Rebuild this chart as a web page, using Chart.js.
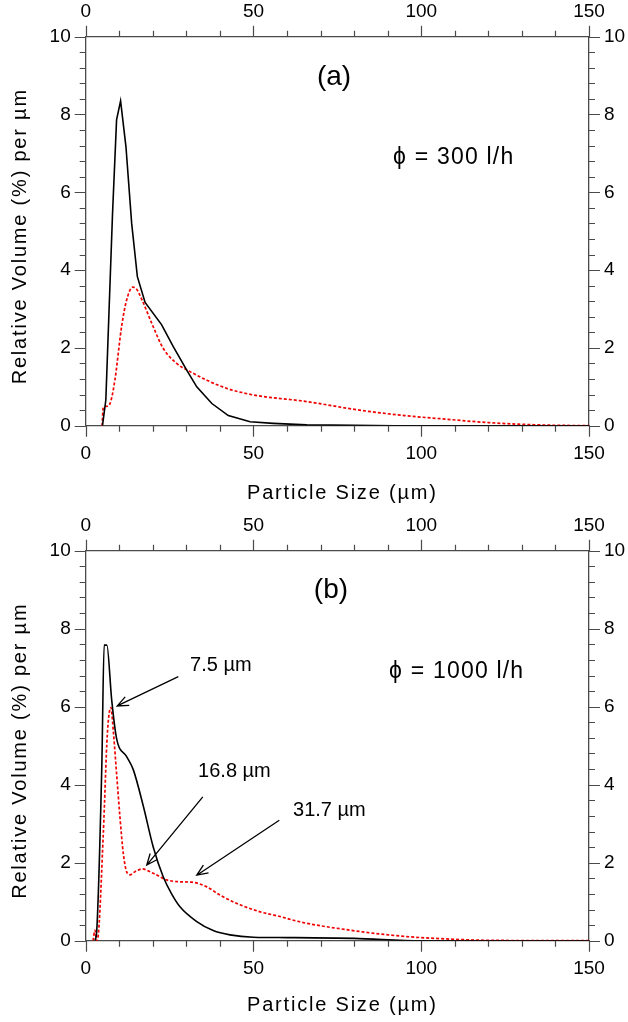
<!DOCTYPE html>
<html>
<head>
<meta charset="utf-8">
<title>Particle size distribution</title>
<script src="https://cdn.jsdelivr.net/npm/chart.js@4.4.0/dist/chart.umd.min.js"></script>
<style>
  html, body { margin: 0; padding: 0; background: #fff; }
  canvas { display: block; }
</style>
</head>
<body>
<canvas id="chartA" width="628" height="514"></canvas>
<canvas id="chartB" width="628" height="508"></canvas>
<script>
// ===== DATA =====

// axis ticks
const sizeTicks = [0, 50, 100, 150];
const volTicks = [0, 2, 4, 6, 8, 10];

// (a) phi = 300 l/h
const aBlackSize = [5.0, 6.0, 8.0, 9.2, 10.4, 12.0, 13.7, 15.4, 17.7, 22.6, 26.1, 30.1, 33.1, 37.6, 42.5, 49.0, 55.9, 65.9, 80, 92, 150];
const aBlackVol  = [0, 0.66, 5.46, 7.86, 8.35, 7.17, 5.2, 3.83, 3.17, 2.6, 2.03, 1.43, 1.0, 0.57, 0.26, 0.10, 0.06, 0.02, 0.01, 0, 0];
const aRedSize = [4.9, 5.2, 6.3, 7.3, 8.7, 10.7, 12.2, 14.0, 15.0, 16.7, 19.7, 23.1, 27.1, 31.1, 36.1, 42.0, 50.0, 65.9, 80.8, 95, 105.6, 120, 135, 150];
const aRedVol  = [0, 0.45, 0.5, 0.58, 1.17, 2.55, 3.23, 3.56, 3.53, 3.25, 2.63, 1.99, 1.60, 1.39, 1.17, 0.96, 0.79, 0.62, 0.41, 0.26, 0.18, 0.08, 0.02, 0];

// (b) phi = 1000 l/h
const bBlackSize = [2.77, 3.3, 4.8, 5.5, 6.3, 7.75, 9.2, 12.2, 14.2, 17.2, 20.1, 23.1, 25.6, 28.1, 33.1, 38.0, 43.0, 50, 60, 80, 100, 150];
const bBlackVol  = [0, 0.27, 4.47, 7.58, 7.58, 6.17, 5.19, 4.72, 4.38, 3.44, 2.41, 1.64, 1.2, 0.87, 0.49, 0.26, 0.15, 0.09, 0.08, 0.06, 0, 0];
const bRedSize = [2.2, 2.77, 3.3, 3.6, 5.25, 6.45, 7.5, 8.3, 9.2, 10.2, 11.2, 12.2, 13.2, 14.7, 16.8, 20.1, 24.1, 28.1, 31.7, 36.1, 40.0, 46, 52, 57.9, 64, 78.8, 93.7, 108.6, 120, 150];
const bRedVol  = [0, 0.27, 0, 0.05, 2.75, 5.3, 5.98, 5.3, 4.29, 3.18, 2.24, 1.77, 1.69, 1.77, 1.84, 1.73, 1.56, 1.51, 1.50, 1.38, 1.17, 0.92, 0.74, 0.62, 0.48, 0.27, 0.12, 0.04, 0.01, 0];

// peak labels in (b)
const bPeakLabels = ['7.5 µm', '16.8 µm', '31.7 µm'];

// ===== STYLE =====
const FONT = "'Liberation Sans', Arial, Helvetica, sans-serif";
const AXIS_COLOR = '#4a4a4a';

function toPoints(xs, ys) {
    return xs.map((x, i) => ({ x: x, y: ys[i] }));
}

// Outward tick marks on all four sides, major + minor
const frameTicks = {
    id: 'frameTicks',
    afterDraw(chart) {
        const { ctx, chartArea: a, scales } = chart;
        ctx.save();
        ctx.strokeStyle = AXIS_COLOR;
        ctx.lineWidth = 1.2;
        ctx.beginPath();
        for (let i = 0; i <= 15; i++) {
            const px = Math.round(scales.x.getPixelForValue(i * 10)) + 0.5;
            const len = i % 5 === 0 ? 11 : 6;
            ctx.moveTo(px, a.bottom); ctx.lineTo(px, a.bottom + len);
            ctx.moveTo(px, a.top); ctx.lineTo(px, a.top - len);
        }
        for (let i = 0; i <= 25; i++) {
            const py = Math.round(scales.y.getPixelForValue(i * 0.4)) + 0.5;
            const len = i % 5 === 0 ? 11 : 6;
            ctx.moveTo(a.left, py); ctx.lineTo(a.left - len, py);
            ctx.moveTo(a.right, py); ctx.lineTo(a.right + len, py);
        }
        ctx.stroke();
        ctx.restore();
    }
};

// Axis titles, text labels and arrows (labels placed in data coordinates)
const notes = {
    id: 'notes',
    afterDraw(chart, args, opts) {
        const { ctx, scales, chartArea: a } = chart;
        const px = v => scales.x.getPixelForValue(v);
        const py = v => scales.y.getPixelForValue(v);
        ctx.save();
        ctx.fillStyle = '#000';
        ctx.textBaseline = 'middle';

        // axis titles
        ctx.font = `20px ${FONT}`;
        ctx.letterSpacing = '1.8px';
        ctx.textAlign = 'center';
        ctx.fillText('Particle Size (µm)', (a.left + a.right) / 2 + 5, opts.titleY);
        ctx.save();
        ctx.translate(20, (a.top + a.bottom) / 2 + 5);
        ctx.rotate(-Math.PI / 2);
        ctx.fillText('Relative Volume (%) per µm', 0, 0);
        ctx.restore();

        (opts.texts || []).forEach(t => {
            ctx.font = `${t.size}px ${FONT}`;
            ctx.letterSpacing = (t.spacing || 0) + 'px';
            ctx.textAlign = t.align || 'left';
            ctx.fillText(t.text, px(t.x), py(t.y));
        });
        ctx.letterSpacing = '0px';

        ctx.strokeStyle = '#000';
        ctx.lineWidth = 1.3;
        (opts.arrows || []).forEach(ar => {
            const x0 = px(ar.from[0]), y0 = py(ar.from[1]);
            const x1 = px(ar.to[0]), y1 = py(ar.to[1]);
            const ang = Math.atan2(y1 - y0, x1 - x0);
            const head = 12, spread = 0.4;
            ctx.beginPath();
            ctx.moveTo(x0, y0); ctx.lineTo(x1, y1);
            ctx.moveTo(x1 - head * Math.cos(ang - spread), y1 - head * Math.sin(ang - spread));
            ctx.lineTo(x1, y1);
            ctx.lineTo(x1 - head * Math.cos(ang + spread), y1 - head * Math.sin(ang + spread));
            ctx.stroke();
        });
        ctx.restore();
    }
};

function sizeAxis(position, height, pad) {
    return {
        type: 'linear',
        position: position,
        min: 0,
        max: 150,
        afterBuildTicks: s => { s.ticks = sizeTicks.map(v => ({ value: v })); },
        ticks: { color: '#000', font: { family: FONT, size: 19 }, padding: pad, maxRotation: 0, autoSkip: false },
        grid: { display: false, drawTicks: false },
        border: { display: true, color: AXIS_COLOR, width: 1.3 },
        title: { display: false },
        afterFit: s => { s.height = height; }
    };
}

function volAxis(position, width) {
    return {
        type: 'linear',
        position: position,
        min: 0,
        max: 10,
        afterBuildTicks: s => { s.ticks = volTicks.map(v => ({ value: v })); },
        ticks: { color: '#000', font: { family: FONT, size: 19 }, padding: 15 },
        grid: { display: false, drawTicks: false },
        border: { display: true, color: AXIS_COLOR, width: 1.3 },
        title: { display: false },
        afterFit: s => { s.width = width; }
    };
}

function makeChart(id, black, red, bottomHeight, blackMode, noteOpts) {
    const canvas = document.getElementById(id);
    return new Chart(canvas.getContext('2d'), {
        type: 'line',
        data: {
            datasets: [{
                data: black,
                borderColor: '#000',
                borderWidth: 1.6,
                pointRadius: 0,
                tension: 0,
                cubicInterpolationMode: blackMode,
                fill: false
            }, {
                data: red,
                borderColor: '#f00000',
                borderWidth: 1.7,
                borderDash: [3, 2],
                pointRadius: 0,
                cubicInterpolationMode: 'monotone',
                fill: false
            }]
        },
        options: {
            responsive: false,
            animation: false,
            devicePixelRatio: 1,
            layout: { padding: 0 },
            plugins: {
                legend: { display: false },
                tooltip: { enabled: false },
                notes: noteOpts
            },
            scales: {
                x: sizeAxis('bottom', bottomHeight, 17),
                x2: sizeAxis('top', 36.7, 14),
                y: volAxis('left', 85.7),
                y2: volAxis('right', 39)
            }
        },
        plugins: [frameTicks, notes]
    });
}

// ===== INIT =====
makeChart('chartA', toPoints(aBlackSize, aBlackVol), toPoints(aRedSize, aRedVol), 88.3, 'default', {
    titleY: 493,
    texts: [
        { text: '(a)', x: 74, y: 8.96, size: 28, align: 'center' },
        { text: 'ϕ = 300 l/h', x: 91.6, y: 6.88, size: 23, spacing: 1.2 }
    ]
});

makeChart('chartB', toPoints(bBlackSize, bBlackVol), toPoints(bRedSize, bRedVol), 81.3, 'monotone', {
    titleY: 491,
    texts: [
        { text: '(b)', x: 73.1, y: 8.99, size: 28, align: 'center' },
        { text: 'ϕ = 1000 l/h', x: 90.4, y: 6.89, size: 23, spacing: 1.2 },
        { text: bPeakLabels[0], x: 31.1, y: 7.06, size: 20 },
        { text: bPeakLabels[1], x: 33.5, y: 4.33, size: 20 },
        { text: bPeakLabels[2], x: 61.8, y: 3.33, size: 20 }
    ],
    arrows: [
        { from: [27.6, 6.77], to: [9.4, 6.02] },
        { from: [34.9, 3.69], to: [18.2, 1.94] },
        { from: [57.7, 3.09], to: [33.1, 1.68] }
    ]
});
</script>
</body>
</html>
